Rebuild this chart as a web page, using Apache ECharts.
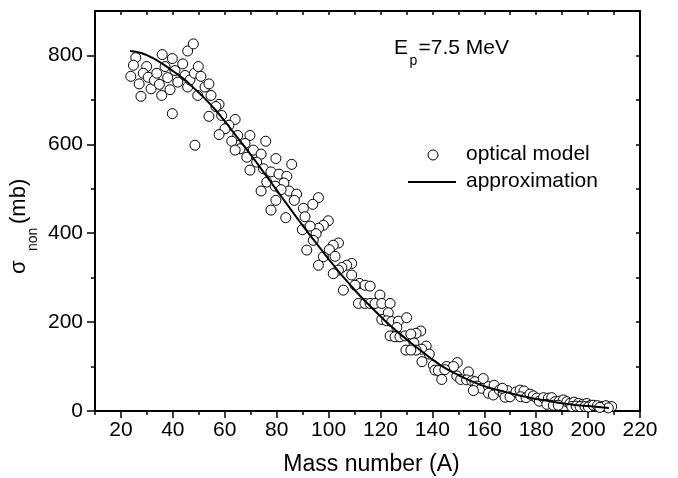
<!DOCTYPE html>
<html>
<head>
<meta charset="utf-8">
<script src="https://cdn.jsdelivr.net/npm/echarts@6/dist/echarts.min.js"></script>
<style>
html,body{margin:0;padding:0;background:#fff;}
#chart{width:678px;height:478px;}
</style>
</head>
<body>
<div id="chart"></div>
<script>
// optical model points: mass number A and sigma_non (mb)
const massA = [
25.7,24.8,23.8,27.0,27.7,29.9,28.6,30.5,31.6,32.9,33.8,34.8,35.9,35.7,37.0,38.0,38.9,39.8,39.8,40.8,
41.9,43.8,44.7,45.7,45.7,47.9,46.6,48.3,49.8,50.8,49.6,48.5,52.4,53.9,53.9,54.7,
57.8,58.8,56.6,64.0,61.6,60.1,57.8,65.0,62.7,69.7,67.8,65.9,64.0,71.0,75.8,68.5,74.0,72.3,69.7,74.9,
79.7,77.8,85.8,80.9,83.9,76.2,82.8,79.4,74.0,84.8,87.7,81.7,86.8,79.7,90.3,77.8,83.5,90.9,89.9,91.6,
96.1,93.9,99.9,98.0,96.1,92.9,95.2,94.1,103.8,101.8,100.3,102.5,98.0,96.1,108.9,107.0,105.1,103.8,101.8,108.9,
111.9,114.0,116.0,110.2,105.7,119.8,111.5,114.0,116.0,117.9,120.5,123.7,123.0,120.5,122.4,124.3,126.9,130.1,126.3,123.7,
125.6,127.5,129.5,129.8,
135.5,133.7,131.7,132.9,137.6,135.9,133.7,131.7,138.8,136.0,140.4,141.0,142.3,143.6,145.5,149.6,148.1,149.4,150.9,153.9,
153.2,155.2,156.4,159.6,157.3,159.0,155.8,161.6,163.8,161.6,163.5,165.8,167.3,168.9,168.0,144.8,
167.0,169.9,172.2,173.8,175.3,174.0,176.1,177.6,178.9,180.2,181.2,182.8,184.7,186.0,184.1,187.3,188.9,190.5,191.8,186.6,
188.5,193.0,194.6,196.2,197.9,199.5,201.0,193.7,195.4,196.9,198.8,200.1,202.0,203.6,205.3,206.9,209.1,207.8,204.5
];
const sigmaOM = [
795,778,753,736,708,775,760,751,725,744,760,735,802,710,775,750,723,793,669,766,
740,781,755,729,810,826,745,760,775,753,710,598,729,736,663,710,
690,665,685,656,643,635,622,620,607,620,602,590,587,587,607,571,578,560,542,545,
568,538,555,533,528,515,513,506,495,495,488,498,474,474,456,452,435,437,408,362,
480,465,428,418,411,416,399,384,378,373,363,348,347,328,332,328,323,317,309,306,
287,283,281,283,272,261,242,242,242,242,242,242,221,206,203,201,202,210,188,169,
167,167,169,137,
180,175,173,153,146,139,137,137,128,111,103,92,91,71,100,109,100,79,71,88,
70,68,66,73,56,51,46,55,58,40,36,47,40,46,31,93,
51,32,43,47,45,32,30,38,34,29,22,30,29,30,15,21,22,25,21,13,
13,17,20,17,15,17,13,10,11,10,10,9,13,12,10,12,10,7,8
];
// approximation curve
const curveA = [23.5,28,32,36,40,44,48,52,56,60,64,68,72,76,80,84,88,92,96,100,104,108,112,116,120,124,128,132,136,140,144,148,152,156,160,164,168,172,176,180,184,188,192,196,200,204,208];
const curveSigma = [810,805,795,781,765,748,727,705,680,652,622,592,561,529,497,465,433,402,372,342,313,286,260,236,213,191,171,152,134,116,100,87,75,65,56,49,43,37,32,27,23,19,16,13,11,9,7];
// tick values
const xTickValues = [20,40,60,80,100,120,140,160,180,200,220];
const xMinorValues = [10,30,50,70,90,110,130,150,170,190,210];
const xTopValues = [10,20,30,40,50,60,70,80,90,100,110,120,130,140,150,160,170,180,190,200,210,220];
const yTickValues = [0,200,400,600,800];
const yMinorValues = [100,300,500,700];
const yRightValues = [100,200,300,400,500,600,700,800];

const FONT = "'Liberation Sans', Arial, Helvetica, sans-serif";
const chart = echarts.init(document.getElementById('chart'), null, {renderer:'canvas'});

const baseX = {type:'value', min:10, max:220, splitLine:{show:false}, gridIndex:0};
const baseY = {type:'value', min:0, max:900, splitLine:{show:false}, gridIndex:0};
const lineStyle = {color:'#000', width:2};

const option = {
  animation:false,
  backgroundColor:'#fff',
  grid:{left:95, right:38, top:11, bottom:67, containLabel:false},
  xAxis:[
    Object.assign({}, baseX, {position:'bottom',
      axisLine:{show:true, onZero:false, lineStyle:lineStyle},
      axisTick:{show:true, inside:false, length:7, lineStyle:{color:'#000', width:1.5}, customValues:xTickValues},
      axisLabel:{show:true, margin:9, color:'#000', fontSize:21, fontFamily:FONT, customValues:xTickValues}
    }),
    Object.assign({}, baseX, {position:'bottom',
      axisLine:{show:false, onZero:false},
      axisTick:{show:true, inside:false, length:4, lineStyle:{color:'#000', width:1.5}, customValues:xMinorValues},
      axisLabel:{show:false}
    }),
    Object.assign({}, baseX, {position:'top',
      axisLine:{show:true, onZero:false, lineStyle:lineStyle},
      axisTick:{show:true, inside:true, length:4, lineStyle:{color:'#000', width:1.5}, customValues:xTopValues},
      axisLabel:{show:false}
    })
  ],
  yAxis:[
    Object.assign({}, baseY, {position:'left',
      axisLine:{show:true, onZero:false, lineStyle:lineStyle},
      axisTick:{show:true, inside:false, length:8, lineStyle:{color:'#000', width:1.5}, customValues:yTickValues},
      axisLabel:{show:true, margin:12, color:'#000', fontSize:21, fontFamily:FONT, customValues:yTickValues}
    }),
    Object.assign({}, baseY, {position:'left',
      axisLine:{show:false, onZero:false},
      axisTick:{show:true, inside:false, length:4, lineStyle:{color:'#000', width:1.5}, customValues:yMinorValues},
      axisLabel:{show:false}
    }),
    Object.assign({}, baseY, {position:'right',
      axisLine:{show:true, onZero:false, lineStyle:lineStyle},
      axisTick:{show:true, inside:true, length:4, lineStyle:{color:'#000', width:1.5}, customValues:yRightValues},
      axisLabel:{show:false}
    })
  ],
  series:[
    {
      name:'optical model', type:'scatter', xAxisIndex:0, yAxisIndex:0,
      data: massA.map((a,i)=>[a, sigmaOM[i]]),
      symbol:'circle', symbolSize:10,
      itemStyle:{color:'#fff', borderColor:'#000', borderWidth:1, opacity:1},
      emphasis:{disabled:true}, z:2
    },
    {
      name:'approximation', type:'line', xAxisIndex:0, yAxisIndex:0,
      data: curveA.map((a,i)=>[a, curveSigma[i]]),
      showSymbol:false, smooth:true,
      lineStyle:{color:'#000', width:2},
      emphasis:{disabled:true}, z:3
    }
  ],
  graphic:[
    // x axis title
    {type:'text', x:371.5, y:465, style:{text:'Mass number (A)', font:'23px '+FONT, fill:'#000', align:'center', verticalAlign:'middle'}},
    // y axis title (rotated)
    {type:'text', x:19.3, y:274, rotation:Math.PI/2, style:{text:'σ', font:'22px '+FONT, fill:'#000', align:'left', verticalAlign:'middle'}},
    {type:'text', x:33.4, y:251, rotation:Math.PI/2, style:{text:'non', font:'14px '+FONT, fill:'#000', align:'left', verticalAlign:'middle'}},
    {type:'text', x:19.3, y:224, rotation:Math.PI/2, style:{text:'(mb)', font:'22px '+FONT, fill:'#000', align:'left', verticalAlign:'middle'}},
    // annotation
    {type:'text', x:394, y:48.6, style:{text:'E', font:'21px '+FONT, fill:'#000', align:'left', verticalAlign:'middle'}},
    {type:'text', x:409.5, y:61, style:{text:'p', font:'14px '+FONT, fill:'#000', align:'left', verticalAlign:'middle'}},
    {type:'text', x:418.5, y:48.6, style:{text:'=7.5 MeV', font:'21px '+FONT, fill:'#000', align:'left', verticalAlign:'middle'}},
    // legend
    {type:'circle', shape:{cx:433, cy:155, r:5}, style:{fill:'#fff', stroke:'#000', lineWidth:1}},
    {type:'text', x:466, y:154, style:{text:'optical model', font:'21px '+FONT, fill:'#000', align:'left', verticalAlign:'middle'}},
    {type:'line', shape:{x1:408, y1:182, x2:456, y2:182}, style:{stroke:'#000', lineWidth:2}},
    {type:'text', x:466, y:181, style:{text:'approximation', font:'21px '+FONT, fill:'#000', align:'left', verticalAlign:'middle'}}
  ]
};
chart.setOption(option);
</script>
</body>
</html>
